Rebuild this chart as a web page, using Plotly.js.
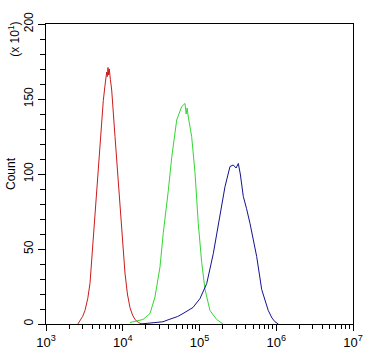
<!DOCTYPE html>
<html><head><meta charset="utf-8">
<script src="https://cdn.plot.ly/plotly-3.0.1.min.js"></script>
<style>html,body{margin:0;padding:0;background:#fff;}#chart{width:377px;height:353px;}</style>
</head><body><div id="chart"></div>
<script>
// Red histogram (intensity, count x10)
const redX = [2600, 2773, 3000, 3221, 3500, 3743, 4132, 4577, 5054, 5580, 5900, 6180, 6300, 6427, 6550, 6680, 6900, 7178, 7925, 8750, 9685, 10690, 11500, 12420, 13400, 14450, 16000, 17650];
const redY = [0, 2.5, 5, 9, 17, 27, 58, 89, 120, 149, 160, 168, 165, 171, 166, 170, 163, 156, 125, 94, 63, 34, 20, 11, 6, 3, 1, 0];
// Green histogram
const greenX = [12420, 15000, 18360, 22650, 26300, 30560, 33750, 39240, 43430, 50470, 58650, 64740, 67000, 69000, 71480, 79070, 87340, 96420, 106800, 118000, 137000, 167500, 202300];
const greenY = [1, 2, 3, 7, 18, 38, 61, 89, 111, 136, 145, 147, 140, 144, 138, 125, 101, 67, 41, 23, 9, 3, 0];
// Blue histogram
const blueX = [17000, 22650, 28000, 33450, 40000, 45150, 52000, 60960, 70000, 82240, 101600, 124200, 151400, 185000, 214800, 249600, 275500, 300000, 320500, 340000, 355000, 372400, 410000, 455200, 556000, 646000, 787000, 880000, 963000, 1064000];
const blueY = [0, 0.7, 1, 1.5, 3, 4, 5, 7, 9, 11, 17, 27, 47, 72, 91.5, 105, 106, 104, 107, 100, 93, 85, 77, 67, 45, 23, 9, 4, 1.5, 0];

const xTickVals = [1e3, 1e4, 1e5, 1e6, 1e7];
const xTickText = ['10<sup>3</sup>', '10<sup>4</sup>', '10<sup>5</sup>', '10<sup>6</sup>', '10<sup>7</sup>'];
const xMinorVals = [];
[1e3, 1e4, 1e5, 1e6].forEach(d => { for (let k = 2; k <= 9; k++) xMinorVals.push(d * k); });
const yTickVals = [0, 50, 100, 150, 200];
const yTickText = ['0', '50', '100', '150', '200'];

const font = {family: 'Liberation Sans, Arial, sans-serif', size: 12, color: '#000'};
const traces = [
  {x: redX, y: redY, mode: 'lines', line: {color: '#cc1a1a', width: 1}, type: 'scatter'},
  {x: greenX, y: greenY, mode: 'lines', line: {color: '#33d633', width: 1}, type: 'scatter'},
  {x: blueX, y: blueY, mode: 'lines', line: {color: '#13138f', width: 1}, type: 'scatter'}
];
const layout = {
  width: 377, height: 353,
  margin: {l: 46, r: 24, t: 24, b: 29},
  showlegend: false,
  paper_bgcolor: '#fff', plot_bgcolor: '#fff',
  font: font,
  xaxis: {
    type: 'log', range: [3, 7],
    tickvals: xTickVals, ticktext: xTickText,
    ticks: 'outside', ticklen: 6, tickwidth: 1, tickcolor: '#000',
    minor: {tickvals: xMinorVals, ticks: 'outside', ticklen: 4, tickwidth: 1, tickcolor: '#000', showgrid: false},
    showline: true, linecolor: '#000', linewidth: 1, mirror: true,
    showgrid: false, zeroline: false,
    tickfont: {family: 'Liberation Sans, Arial, sans-serif', size: 13, color: '#000'}
  },
  yaxis: {
    range: [0, 200],
    tickvals: yTickVals, ticktext: yTickText, tickangle: -90,
    ticks: 'outside', ticklen: 7, tickwidth: 1, tickcolor: '#000',
    minor: {dtick: 10, ticks: 'outside', ticklen: 5, tickwidth: 1, tickcolor: '#000', showgrid: false},
    showline: true, linecolor: '#000', linewidth: 1, mirror: true,
    showgrid: false, zeroline: false,
    tickfont: {family: 'Liberation Sans, Arial, sans-serif', size: 12, color: '#000'},
    title: {text: 'Count', font: {family: 'Liberation Sans, Arial, sans-serif', size: 12, color: '#000'}, standoff: 4}
  },
  annotations: [{
    text: '(x 10<sup>1</sup>)', xref: 'paper', yref: 'paper', x: -0.105, y: 0.95,
    xanchor: 'center', yanchor: 'middle', textangle: -90, showarrow: false,
    font: {family: 'Liberation Sans, Arial, sans-serif', size: 12, color: '#000'}
  }]
};
Plotly.newPlot('chart', traces, layout, {displayModeBar: false, staticPlot: true});
</script></body></html>
